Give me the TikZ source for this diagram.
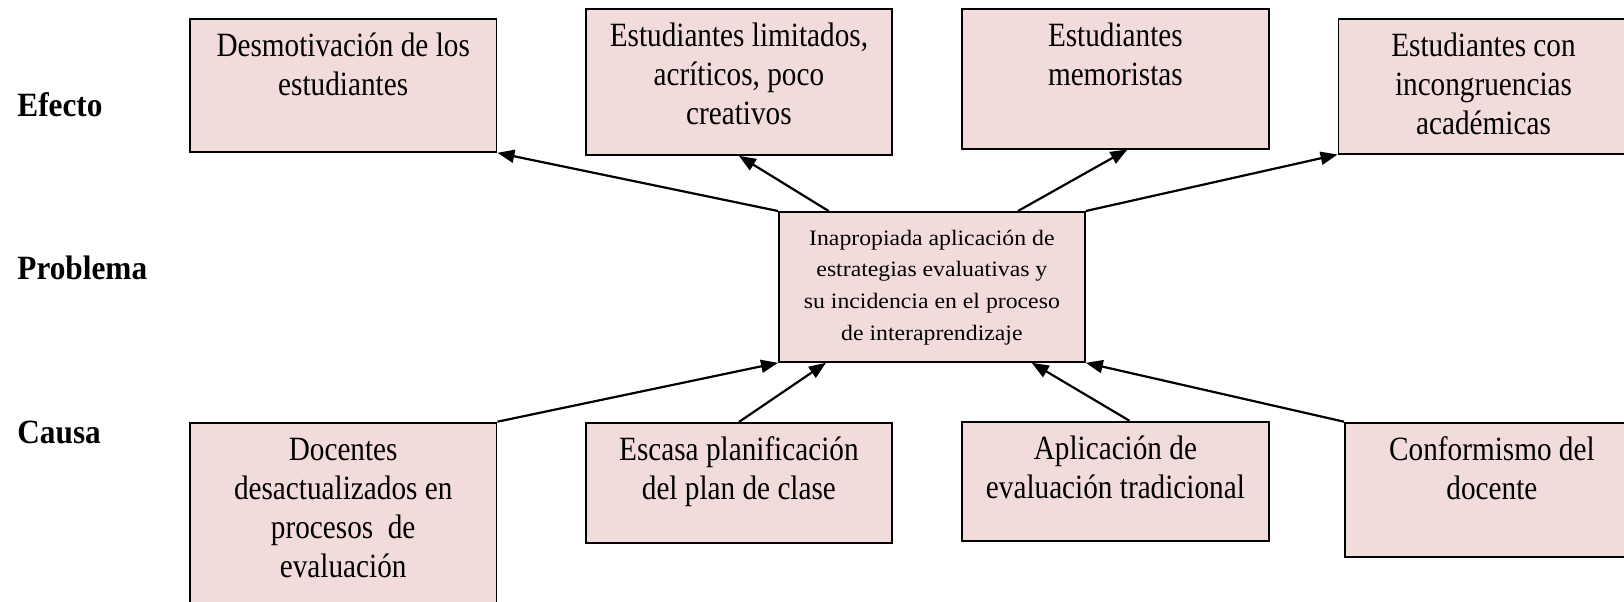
\documentclass[tikz,border=0pt]{standalone}
\usepackage{fontspec}
\setmainfont{Liberation Serif}
\newfontfamily\boxfont[FakeStretch=0.86]{Liberation Serif}
\newfontfamily\labfont[FakeStretch=0.92]{Liberation Serif}
\newfontfamily\probfont[FakeStretch=1.08]{Liberation Serif}
\usetikzlibrary{arrows.meta}
\definecolor{boxfill}{RGB}{242,220,219}
% box text: width, height, lines (first baseline at a fixed depth)
\newcommand{\boxtxt}[4][18.75pt]{\parbox[t][#3][t]{#2}{\centering\rule{0pt}{#1}#4}}

\begin{document}
\begin{tikzpicture}[x=0.5pt, y=-0.5pt, >={Triangle[length=8.5pt,width=6.5pt]}]
  \tikzstyle{cell} = [draw, line width=0.9pt, fill=boxfill, inner sep=0pt, anchor=north west, font={\boxfont\fontsize{17}{19.5}\selectfont}]
  \tikzstyle{level} = [anchor=base west, inner sep=0pt, font={\labfont\bfseries\fontsize{17}{20}\selectfont}]
  \tikzstyle{link} = [black, line width=1.1pt, ->]

  \useasboundingbox (0,0) rectangle (1624,601);
  \clip (0,0) rectangle (1624,601);

  \node[level] (efecto)   at (17,116)   {Efecto};
  \node[level] (problema) at (17,279.5) {Problema};
  \node[level] (causa)    at (17,443.3) {Causa};

  % efectos
  \node[cell] (effA) at (189,18.3)  {\boxtxt{153.3pt}{66.35pt}{Desmotivación de los\\estudiantes}};
  \node[cell] (effB) at (585,8.3)   {\boxtxt{153pt}{72.85pt}{Estudiantes limitados,\\acríticos, poco\\creativos}};
  \node[cell] (effC) at (961,8.3)   {\boxtxt{153.5pt}{69.7pt}{Estudiantes\\memoristas}};
  \node[cell] (effD) at (1337.6,18.3) {\boxtxt{145pt}{67.2pt}{Estudiantes con\\incongruencias\\académicas}};

  % problema
  \node[cell, font={\probfont\fontsize{11}{15.85}\selectfont}] (prob) at (778,211)
    {\boxtxt[16.65pt]{153pt}{75pt}{Inapropiada aplicación de\\estrategias evaluativas y\\su incidencia en el proceso\\de interaprendizaje}};

  % causas
  \node[cell] (cauA) at (189,421.7)  {\boxtxt{153.3pt}{92.5pt}{Docentes\\desactualizados en\\procesos\ \ de\\evaluación}};
  \node[cell] (cauB) at (585,422)    {\boxtxt{153pt}{59.85pt}{Escasa planificación\\del plan de clase}};
  \node[cell] (cauC) at (961,420.7)  {\boxtxt{153.5pt}{59.65pt}{Aplicación de\\evaluación tradicional}};
  \node[cell] (cauD) at (1344,421.7) {\boxtxt{147pt}{67.15pt}{Conformismo del\\docente}};

  \draw[link] (prob.north west) -- (effA.south east);
  \draw[link] ([xshift=25.3pt]prob.north west) -- (effB.south);
  \draw[link] ([xshift=120pt]prob.north west) -- ([xshift=6pt]effC.south);
  \draw[link] (prob.north east) -- (effD.south west);

  \draw[link] (cauA.north east) -- (prob.south west);
  \draw[link] (cauB.north) -- ([xshift=24pt]prob.south west);
  \draw[link] ([xshift=7pt]cauC.north) -- ([xshift=-27pt]prob.south east);
  \draw[link] (cauD.north west) -- (prob.south east);
\end{tikzpicture}
\end{document}
